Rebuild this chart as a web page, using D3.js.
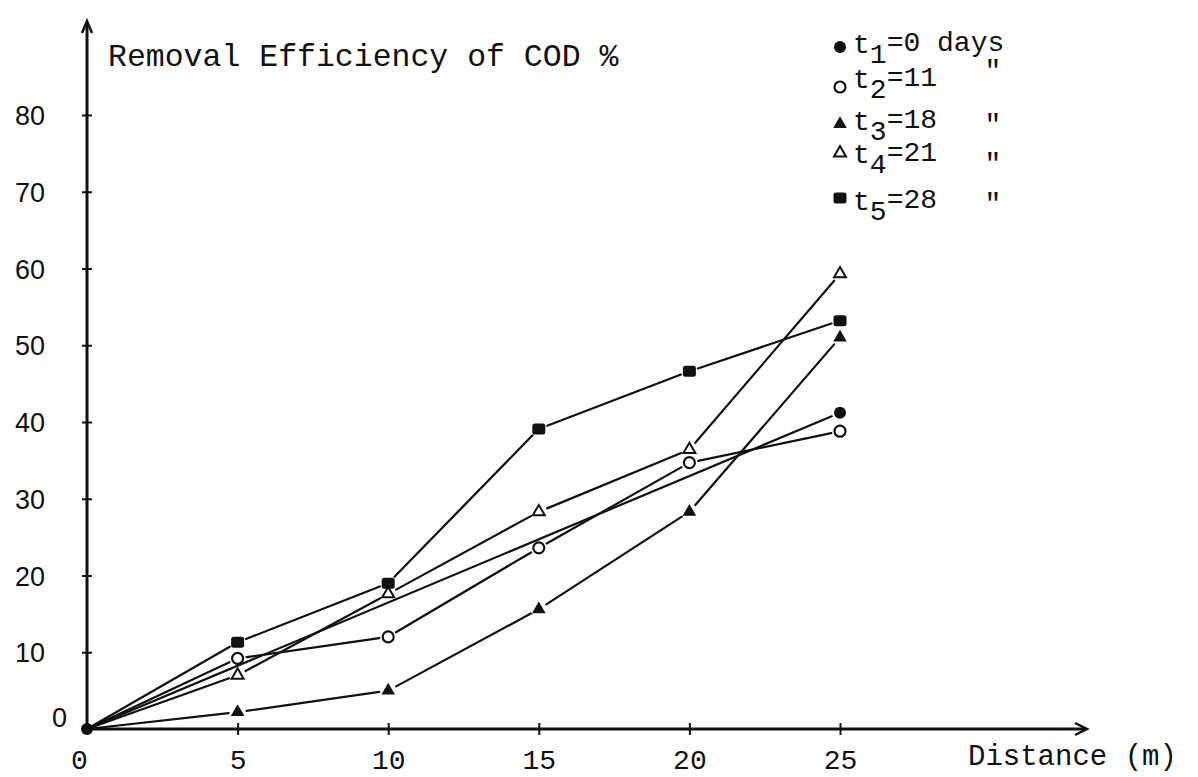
<!DOCTYPE html>
<html>
<head>
<meta charset="utf-8">
<script src="https://cdn.jsdelivr.net/npm/d3@7"></script>
<style>
  html, body { margin: 0; padding: 0; background: #fff; }
  svg { display: block; }
</style>
</head>
<body>
<svg id="chart" width="1198" height="777"></svg>
<script>
// ---------- data ----------
const distances = [0, 5, 10, 15, 20, 25];
const t1Distances = [0, 25];
const t1Values = [0, 41.2];
const t2Values = [0, 9.2, 12.0, 23.6, 34.7, 38.8];
const t3Values = [0, 2.2, 5.0, 15.6, 28.3, 51.0];
const t4Values = [0, 7.0, 17.6, 28.3, 36.4, 59.3];
const t5Values = [0, 11.3, 19.0, 39.1, 46.6, 53.2];
const xTickValues = [0, 5, 10, 15, 20, 25];
const yTickValues = [0, 10, 20, 30, 40, 50, 60, 70, 80];
const legendSubs = ["1", "2", "3", "4", "5"];
const legendRest = ["=0 days", "=11", "=18", "=21", "=28"];
const dittoMark = "\"";
const titleText = "Removal Efficiency of COD %";
const xAxisLabel = "Distance (m)";

// ---------- setup ----------
const svg = d3.select("#chart");
const x = d3.scaleLinear().domain([0, 25]).range([87, 840]);
const y = d3.scaleLinear().domain([0, 80]).range([729, 115]);
const ink = "#111";
const mono = "'Liberation Mono', 'DejaVu Sans Mono', monospace";
const sans = "'Liberation Sans', Arial, sans-serif";

const series = [
  { name: "t1", xs: t1Distances, ys: t1Values, marker: "dot" },
  { name: "t2", xs: distances, ys: t2Values, marker: "circle" },
  { name: "t3", xs: distances, ys: t3Values, marker: "tri" },
  { name: "t4", xs: distances, ys: t4Values, marker: "triOpen" },
  { name: "t5", xs: distances, ys: t5Values, marker: "square" }
];

function drawMarker(g, type, cx, cy) {
  if (type === "dot") {
    g.append("circle").attr("cx", cx).attr("cy", cy).attr("r", 6).attr("fill", ink);
  } else if (type === "circle") {
    g.append("circle").attr("cx", cx).attr("cy", cy).attr("r", 5.5)
      .attr("fill", "#fff").attr("stroke", ink).attr("stroke-width", 2.2);
  } else if (type === "tri") {
    g.append("path").attr("d", d3.symbol(d3.symbolTriangle, 80)())
      .attr("transform", `translate(${cx},${cy})`).attr("fill", ink);
  } else if (type === "triOpen") {
    g.append("path").attr("d", d3.symbol(d3.symbolTriangle, 62)())
      .attr("transform", `translate(${cx},${cy})`)
      .attr("fill", "#fff").attr("stroke", ink).attr("stroke-width", 2);
  } else if (type === "square") {
    g.append("rect").attr("x", cx - 6.5).attr("y", cy - 5.5)
      .attr("width", 13).attr("height", 11).attr("rx", 2.5).attr("fill", ink);
  }
}

// ---------- axes ----------
const axG = svg.append("g");
axG.append("line").attr("x1", x(0)).attr("x2", x(0)).attr("y1", y(0)).attr("y2", 22)
  .attr("stroke", ink).attr("stroke-width", 3);
axG.append("path").attr("d", `M${x(0) - 5},${33} L${x(0)},${21} L${x(0) + 5},${33}`)
  .attr("fill", "none").attr("stroke", ink).attr("stroke-width", 2.5);
axG.append("line").attr("x1", x(0) - 4).attr("x2", 1085).attr("y1", y(0)).attr("y2", y(0))
  .attr("stroke", ink).attr("stroke-width", 3);
axG.append("path").attr("d", `M1075,${y(0) - 6} L1087,${y(0)} L1075,${y(0) + 6}`)
  .attr("fill", "none").attr("stroke", ink).attr("stroke-width", 2.5);

const xAxis = svg.append("g").attr("transform", `translate(0,${y(0)})`)
  .call(d3.axisBottom(x).tickValues(xTickValues).tickFormat(d3.format("d")));
xAxis.select(".domain").remove();
xAxis.selectAll(".tick line").attr("y1", -6).attr("y2", 6)
  .attr("stroke", ink).attr("stroke-width", 2)
  .filter(d => d === 0).remove();
xAxis.selectAll(".tick text").attr("y", 40).attr("dy", 0)
  .attr("font-family", mono).attr("font-size", 28).attr("fill", ink)
  .attr("x", d => d === 0 ? -8 : 0);

const yAxis = svg.append("g").attr("transform", `translate(${x(0)},0)`)
  .call(d3.axisLeft(y).tickValues(yTickValues).tickFormat(d3.format("d")));
yAxis.select(".domain").remove();
yAxis.selectAll(".tick line").attr("x1", -5).attr("x2", 5)
  .attr("stroke", ink).attr("stroke-width", 2)
  .filter(d => d === 0).remove();
yAxis.selectAll(".tick text")
  .attr("font-family", sans).attr("font-size", 27).attr("fill", ink)
  .attr("x", d => d === 0 ? -20 : -42)
  .attr("dy", d => d === 0 ? "-0.1em" : "0.36em");

// ---------- series lines (with small gaps at markers) ----------
const gap = 9;
const lineG = svg.append("g");
series.forEach(s => {
  const pts = s.xs.map((d, i) => [x(d), y(s.ys[i]), d]);
  for (let i = 0; i < pts.length - 1; i++) {
    const [x0, y0, d0] = pts[i];
    const [x1, y1, d1] = pts[i + 1];
    const len = Math.hypot(x1 - x0, y1 - y0);
    const ux = (x1 - x0) / len, uy = (y1 - y0) / len;
    const g0 = d0 === 0 ? 0 : gap;
    const g1 = d1 === 0 ? 0 : gap;
    lineG.append("line")
      .attr("x1", x0 + ux * g0).attr("y1", y0 + uy * g0)
      .attr("x2", x1 - ux * g1).attr("y2", y1 - uy * g1)
      .attr("stroke", ink).attr("stroke-width", 2.2).attr("stroke-linecap", "round");
  }
});

// ---------- markers ----------
const markG = svg.append("g");
series.slice().reverse().forEach(s => {
  s.xs.forEach((d, i) => {
    if (d === 0 && s.marker !== "dot") return;
    drawMarker(markG, s.marker, x(d), y(s.ys[i]));
  });
});

// ---------- title & axis label ----------
svg.append("text").attr("x", 108).attr("y", 66)
  .attr("font-family", mono).attr("font-size", 31.5).attr("fill", ink)
  .text(titleText);
svg.append("text").attr("x", 968).attr("y", 765)
  .attr("font-family", mono).attr("font-size", 29).attr("fill", ink)
  .text(xAxisLabel);

// ---------- legend ----------
const legendBase = [53, 88, 130, 163, 210];
const legendMarkY = [47, 87, 124, 153, 198];
const dittoBase = [null, 79, 133, 172, 212];
const legG = svg.append("g");
series.forEach((s, i) => {
  drawMarker(legG, s.marker, 840, legendMarkY[i]);
  const t = legG.append("text").attr("x", 853).attr("y", legendBase[i])
    .attr("font-family", mono).attr("font-size", 28).attr("fill", ink);
  t.append("tspan").text("t");
  t.append("tspan").attr("dy", 10).text(legendSubs[i]);
  t.append("tspan").attr("dy", -12).text(legendRest[i]);
  if (dittoBase[i] !== null) {
    legG.append("text").attr("x", 993).attr("y", dittoBase[i])
      .attr("text-anchor", "middle")
      .attr("font-family", mono).attr("font-size", 28).attr("fill", ink)
      .text(dittoMark);
  }
});
</script>
</body>
</html>
